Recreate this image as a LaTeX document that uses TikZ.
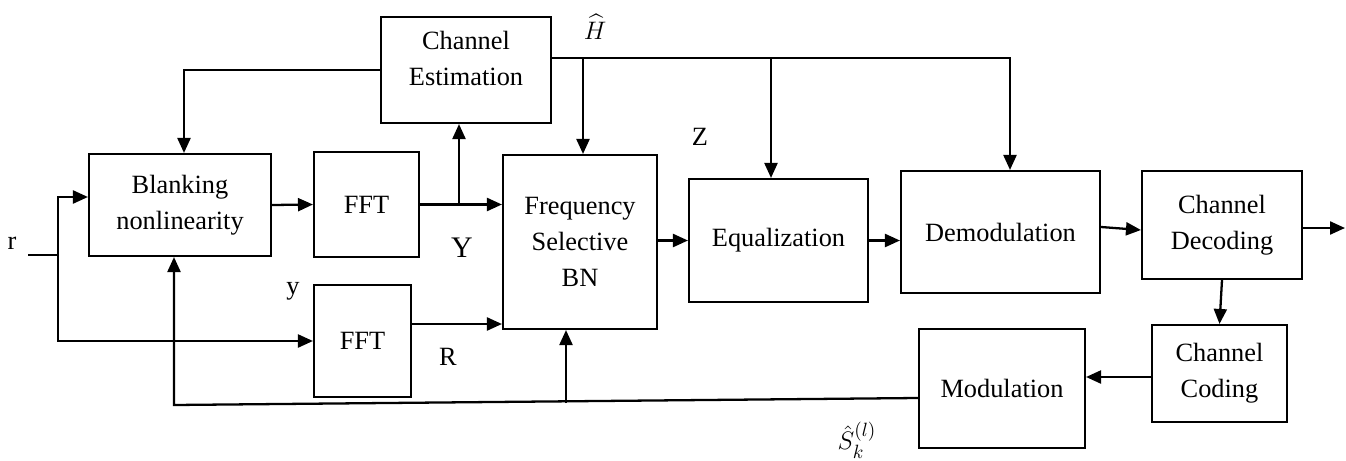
\documentclass[tikz,border=0pt]{standalone}
\usepackage{amsmath}
\usepackage{fontspec}
\setmainfont{Liberation Serif}
\usepackage{tikz}
\usetikzlibrary{arrows.meta}
\tikzset{
  blk/.style={draw, line width=1.2pt, inner sep=0pt, align=center, font=\fontsize{15}{20.5}\selectfont},
  lab/.style={inner sep=0pt, font=\fontsize{15}{18}\selectfont},
  wire/.style={line width=1.3pt},
  arr/.style={line width=1.3pt, -{Triangle[length=0.3cm,width=0.26cm]}}
}

\begin{document}
\begin{tikzpicture}[x=0.02cm,y=-0.02cm]
\useasboundingbox (0,0) rectangle (1346,460);
% blocks
\node[blk, minimum width=3.4cm, minimum height=2.12cm, text depth=0.45cm] (ce) at (466,70) {Channel\\Estimation};
\node[blk, minimum width=3.64cm, minimum height=2.04cm] (bn) at (180,205) {Blanking\\nonlinearity};
\node[blk, minimum width=2.1cm, minimum height=2.1cm] (fft1) at (366.5,204.5) {FFT};
\node[blk, minimum width=1.94cm, minimum height=2.24cm] (fft2) at (362.5,341) {FFT};
\node[blk, minimum width=3.08cm, minimum height=3.48cm] (fsb) at (580,242) {Frequency\\Selective\\BN};
\node[blk, minimum width=3.58cm, minimum height=2.46cm] (eq) at (778.5,240.5) {Equalization};
\node[blk, minimum width=3.98cm, minimum height=2.44cm] (dem) at (1000.5,232) {Demodulation};
\node[blk, minimum width=3.2cm, minimum height=2.16cm] (dec) at (1222,225) {Channel\\Decoding};
\node[blk, minimum width=2.7cm, minimum height=1.94cm] (cod) at (1219.5,373.5) {Channel\\Coding};
\node[blk, minimum width=3.32cm, minimum height=2.38cm] (mod) at (1002,388.5) {Modulation};

% signal labels
\node[lab] (rlab) at (12,243) {r};
\node[lab] (ylab) at (293,291) {y};
\node[lab, font=\fontsize{17}{20}\selectfont] (Ylab) at (462,248) {Y};
\node[lab] (Rlab) at (448,357) {R};
\node[lab] (Hlab) at (595,27) {$\widehat{H}$};
\node[lab] (Zlab) at (700,137) {Z};
\node[lab] (Slab) at (857,440) {$\hat{S}_k^{(l)}$};

% input and splitter
\coordinate (in) at (28,255);
\coordinate (sp) at (58,255);
\coordinate (spt) at (58,197);
\draw[wire] (in) -- (sp);
\draw[arr] (sp) |- (bn.west |- spt);
\draw[arr] (sp) |- (fft2.west);

% upper path
\draw[arr] (bn.east) -- (fft1.west);
\draw[arr] (fft1.east) -- (fsb.west |- fft1.east);
\coordinate (yb) at (459,204.5);
\draw[arr] (yb) -- (ce.south -| yb);
\draw[arr] (fft2.east |- 0,324) -- (fsb.west |- 0,324);

% channel estimate
\coordinate (cb) at (184,70);
\draw[arr] (ce.west) -- (cb) -- (bn.north -| cb);
\coordinate (h1) at (583,58);
\coordinate (h2) at (771,58);
\coordinate (h3) at (1010,58);
\draw[arr] (ce.east |- h1) -- (h3) -- (dem.north -| h3);
\draw[arr] (h1) -- (fsb.north -| h1);
\draw[arr] (h2) -- (eq.north -| h2);

% main chain
\draw[arr] (fsb.east |- eq.west) -- (eq.west);
\draw[arr] (eq.east) -- (dem.west |- eq.east);
\draw[arr] (dem.east |- 0,227) -- (dec.west |- 0,230);
\coordinate (out) at (1345,228);
\draw[arr] (dec.east |- out) -- (out);
\draw[arr] (dec.south) -- (cod.north);
\draw[arr] (cod.west |- 0,377) -- (mod.east |- 0,377);

% feedback
\coordinate (fb) at (174,405);
\coordinate (fj) at (566,403);
\draw[arr] (mod.west |- 0,398) -- (fb) -- (bn.south -| fb);
\draw[arr] (fj) -- (fsb.south -| fj);
\end{tikzpicture}
\end{document}
